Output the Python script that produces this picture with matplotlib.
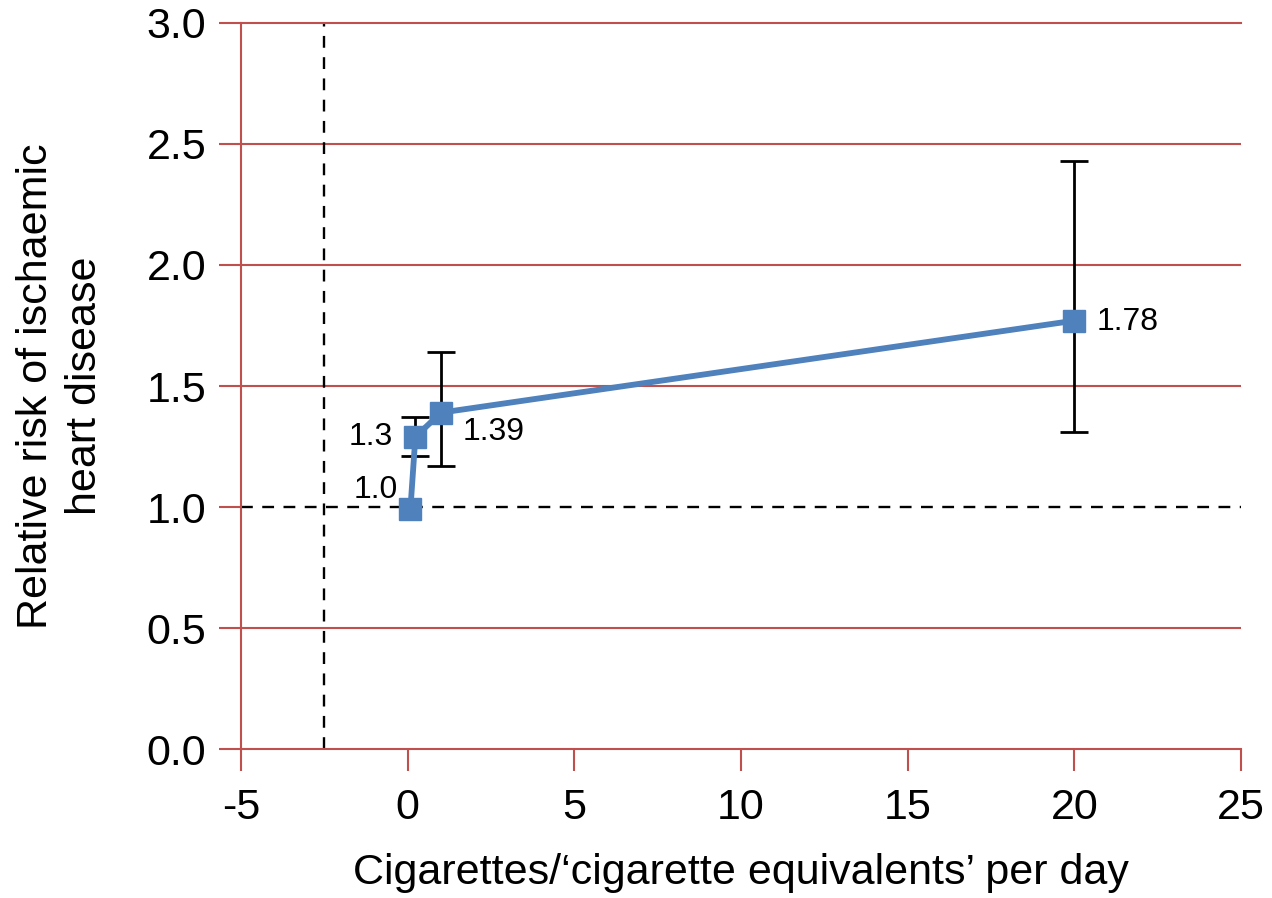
import matplotlib.pyplot as plt

plt.rcParams['font.family'] = ['Liberation Sans', 'DejaVu Sans']
plt.rcParams['axes.unicode_minus'] = False

# data
cigs = [0.08, 0.23, 1.0, 20.0]
risk = [0.99, 1.29, 1.39, 1.77]
ci_low = [0.99, 1.21, 1.17, 1.31]
ci_high = [0.99, 1.37, 1.64, 2.43]
labels = ["1.0", "1.3", "1.39", "1.78"]
yticks = [0, 0.5, 1.0, 1.5, 2.0, 2.5, 3.0]
yticklabels = ["0.0", "0.5", "1.0", "1.5", "2.0", "2.5", "3.0"]

red = "#C0504D"
blue = "#4F81BD"

fig = plt.figure(figsize=(12.72, 8.98), dpi=100)
ax = fig.add_axes([0.1895, 0.1659, 0.7862, 0.8085])

# red gridlines, the 1.0 one is replaced by the dashed reference line
for yv in yticks[1:-1]:
    if yv != 1.0:
        ax.axhline(yv, color=red, lw=1.5, zorder=1)

# error bars (first point has none)
for x, y, lo, hi in zip(cigs[1:], risk[1:], ci_low[1:], ci_high[1:]):
    ax.errorbar(x, y, yerr=[[y - lo], [hi - y]], fmt="none", ecolor="black",
                elinewidth=2, capsize=10, capthick=2, zorder=3)

ax.plot(cigs, risk, color=blue, lw=4.2, marker="s", ms=16.5, zorder=4)

# reference lines
ax.axhline(1.0, color="black", ls=(0, (5, 4)), lw=1.7, zorder=2)
ax.plot([-2.5, -2.5], [0, 3], color="black", ls=(0, (5, 4)), lw=1.7, zorder=2)

# point labels
ax.text(-0.29, 1.07, labels[0], ha="right", va="center", fontsize=23)
ax.text(-0.44, 1.29, labels[1], ha="right", va="center", fontsize=23)
ax.text(1.66, 1.31, labels[2], ha="left", va="center", fontsize=23)
ax.text(20.68, 1.765, labels[3], ha="left", va="center", fontsize=23)

ax.set_xlim(-5, 25)
ax.set_ylim(0, 3)
ax.set_xticks(range(-5, 26, 5))
ax.set_yticks(yticks)
ax.set_yticklabels(yticklabels)

ax.spines["right"].set_visible(False)
for s in ["left", "bottom", "top"]:
    ax.spines[s].set_color(red)
    ax.spines[s].set_linewidth(1.5)
ax.tick_params(axis="both", color=red, width=1.5, length=16, labelsize=31)
ax.tick_params(axis="y", pad=9)
ax.tick_params(axis="x", pad=12)

ax.set_xlabel("Cigarettes/\u2018cigarette equivalents\u2019 per day", fontsize=31, labelpad=18)
ax.set_ylabel("Relative risk of ischaemic\nheart disease", fontsize=31, labelpad=30,
              linespacing=1.3)

fig.savefig("out.png", dpi=100)
